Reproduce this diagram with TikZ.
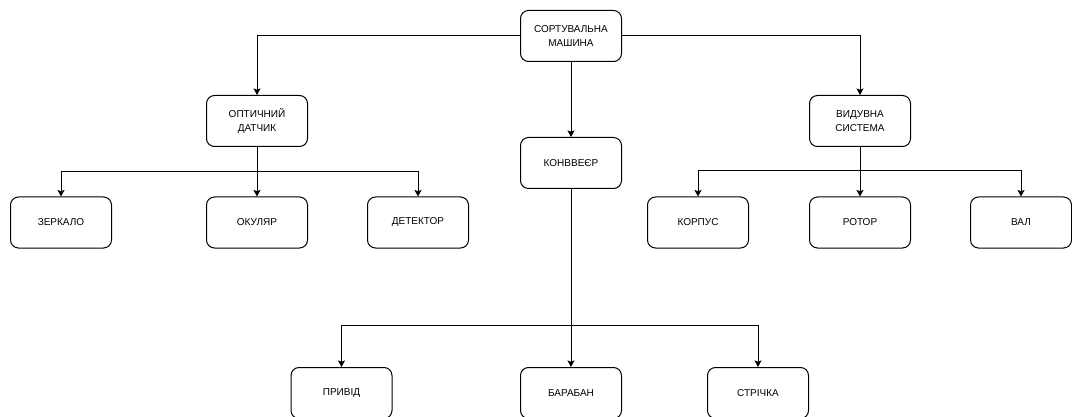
\documentclass[tikz,border=0pt]{standalone}
\usepackage{fontspec}
\setmainfont{Liberation Sans}
\usetikzlibrary{arrows.meta}
\begin{document}
\begin{tikzpicture}[x=1pt,y=-1pt,
  box/.style={draw=black, line width=1pt, rounded corners=8pt, fill=white,
    minimum width=101pt, minimum height=51pt, inner sep=0pt,
    align=center, font=\fontsize{10}{13.3}\selectfont},
  arr/.style={draw=black, line width=1pt,
    -{Stealth[length=6.5pt,width=7pt,inset=1.2pt]}}]
\useasboundingbox (0,0) rectangle (1072,417);

% nodes
\node[box] (root) at (571,36)    {СОРТУВАЛЬНА\\МАШИНА};
\node[box] (opt)  at (257,121)   {ОПТИЧНИЙ\\ДАТЧИК};
\node[box] (kon)  at (571,163)   {КОНВВЕЄР};
\node[box] (vyd)  at (860,121)   {ВИДУВНА\\СИСТЕМА};
\node[box] (zer)  at (61,222.5)  {ЗЕРКАЛО};
\node[box] (oku)  at (257,222.5) {ОКУЛЯР};
\node[box] (det)  at (418,222.5) {ДЕТЕКТОР};
\node[box] (kor)  at (698,222.5) {КОРПУС};
\node[box] (rot)  at (860,222.5) {РОТОР};
\node[box] (val)  at (1021,222.5){ВАЛ};
\node[box] (pry)  at (341.5,393) {ПРИВІД};
\node[box] (bar)  at (571,393)   {БАРАБАН};
\node[box] (str)  at (758,393)   {СТРІЧКА};

% bus levels
\coordinate (b1) at (0,172);
\coordinate (b2) at (0,171);
\coordinate (b3) at (0,325);

% connectors
\draw[arr] (root.west) -| (opt.north);
\draw[arr] (root.east) -| (vyd.north);
\draw[arr] (root.south) -- (kon.north);

\draw[arr] (opt.south) |- (b1 -| zer.north) -- (zer.north);
\draw[arr] (opt.south) -- (oku.north);
\draw[arr] (opt.south) |- (b1 -| det.north) -- (det.north);

\draw[arr] (vyd.south) |- (b2 -| kor.north) -- (kor.north);
\draw[arr] (vyd.south) -- (rot.north);
\draw[arr] (vyd.south) |- (b2 -| val.north) -- (val.north);

\draw[arr] (kon.south) |- (b3 -| pry.north) -- (pry.north);
\draw[arr] (kon.south) -- (bar.north);
\draw[arr] (kon.south) |- (b3 -| str.north) -- (str.north);
\end{tikzpicture}
\end{document}
